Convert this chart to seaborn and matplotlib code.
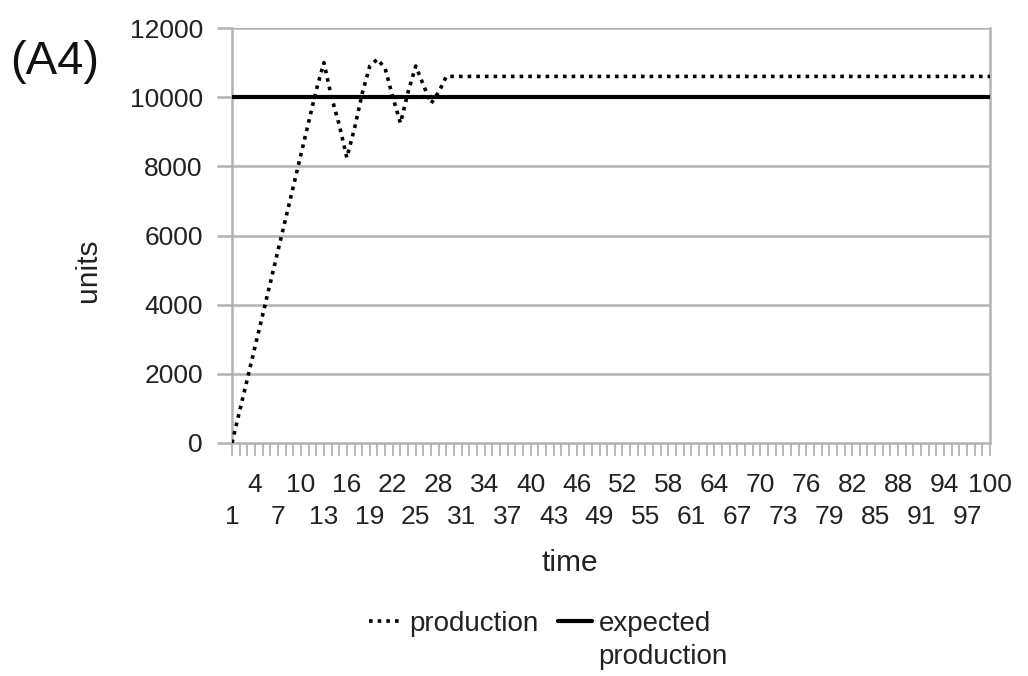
import matplotlib
matplotlib.use("Agg")
import matplotlib.pyplot as plt
import seaborn as sns
import pandas as pd

# ---- data ----
time = list(range(1, 101))
production_head = [0, 930, 1850, 2780, 3700, 4630, 5560, 6480, 7410, 8340,
                   9270, 10200, 11000, 10000, 9200, 8250, 9100, 10100, 10900, 11100,
                   10830, 10000, 9250, 10150, 10900, 10350, 9820, 10150]
production_tail_value = 10600
production = production_head + [production_tail_value] * (100 - len(production_head))
expected_production = [10000] * 100

y_ticks = [0, 2000, 4000, 6000, 8000, 10000, 12000]
x_top_row = list(range(4, 101, 6))      # 4, 10, ..., 100
x_bottom_row = list(range(1, 98, 6))    # 1, 7, ..., 97

sns.set_theme(style="white")
plt.rcParams["font.family"] = ["Liberation Sans", "DejaVu Sans"]

W, H = 1028, 676
fig = plt.figure(figsize=(W/100, H/100), dpi=100)
ax = fig.add_axes([232/W, 1-443/H, (990-232)/W, (443-28)/H])

df = pd.DataFrame({"time": time, "production": production,
                   "expected": expected_production})

sns.lineplot(data=df, x="time", y="expected", ax=ax, color="black",
             linewidth=3.0, label="expected", zorder=3)
sns.lineplot(data=df, x="time", y="production", ax=ax, color="black",
             linewidth=2.6, linestyle=(0, (1, 1.4)), label="production", zorder=4)

grid_c = "#b3b3b3"
txt_c = "#222222"
ax.set_xlim(1, 100)
ax.set_ylim(0, 12000)
ax.set_yticks(y_ticks)
ax.set_yticklabels([str(v) for v in y_ticks])
for y in y_ticks[1:]:
    ax.axhline(y, color=grid_c, linewidth=1.8, zorder=1)

ax.set_xticks(x_top_row)
ax.set_xticklabels([str(t) for t in x_top_row])
ax.set_xticks(time, minor=True)

ax.spines["top"].set_visible(False)
for side in ["left", "bottom", "right"]:
    ax.spines[side].set_color(grid_c)
    ax.spines[side].set_linewidth(1.8)

ax.tick_params(axis="x", which="both", direction="out", length=9, width=1.3,
               color=grid_c, bottom=True, labelsize=19, pad=12.5, labelcolor=txt_c)
ax.tick_params(axis="y", which="major", direction="out", length=11, width=1.8,
               color=grid_c, left=True, labelsize=19, pad=10, labelcolor=txt_c)

sec = ax.secondary_xaxis("bottom")
sec.set_xticks(x_bottom_row)
sec.set_xticklabels([str(t) for t in x_bottom_row])
sec.tick_params(axis="x", length=0, pad=44.5, labelsize=19, labelcolor=txt_c)
sec.spines["bottom"].set_visible(False)

ax.set_xlabel("time", fontsize=21.5, color=txt_c)
ax.set_ylabel("units", fontsize=21.5, color=txt_c)
ax.xaxis.set_label_coords((570-232)/758, -0.255)
ax.yaxis.set_label_coords((102-232)/758, (443-270)/415)

ax.get_legend().remove()
h, l = ax.get_legend_handles_labels()
order = [1, 0]
leg = fig.legend([h[i] for i in order], [l[i] for i in order], loc="upper center",
                 bbox_to_anchor=(540/W, 1-611/H), ncol=2, frameon=False,
                 fontsize=20, handlelength=1.2, handletextpad=0.25, columnspacing=0.7,
                 borderpad=0, borderaxespad=0, labelcolor=txt_c)

fig.canvas.draw()
bb = leg.get_texts()[1].get_window_extent()
fig.text(bb.x0/W, ((bb.y0+bb.y1)/2 - 33)/H, "production", fontsize=20,
         color=txt_c, ha="left", va="center")

fig.text(10/W, 1-62/H, "(A4)", fontsize=34, va="center", ha="left", color="#111111")

fig.savefig("out.png", dpi=100)
